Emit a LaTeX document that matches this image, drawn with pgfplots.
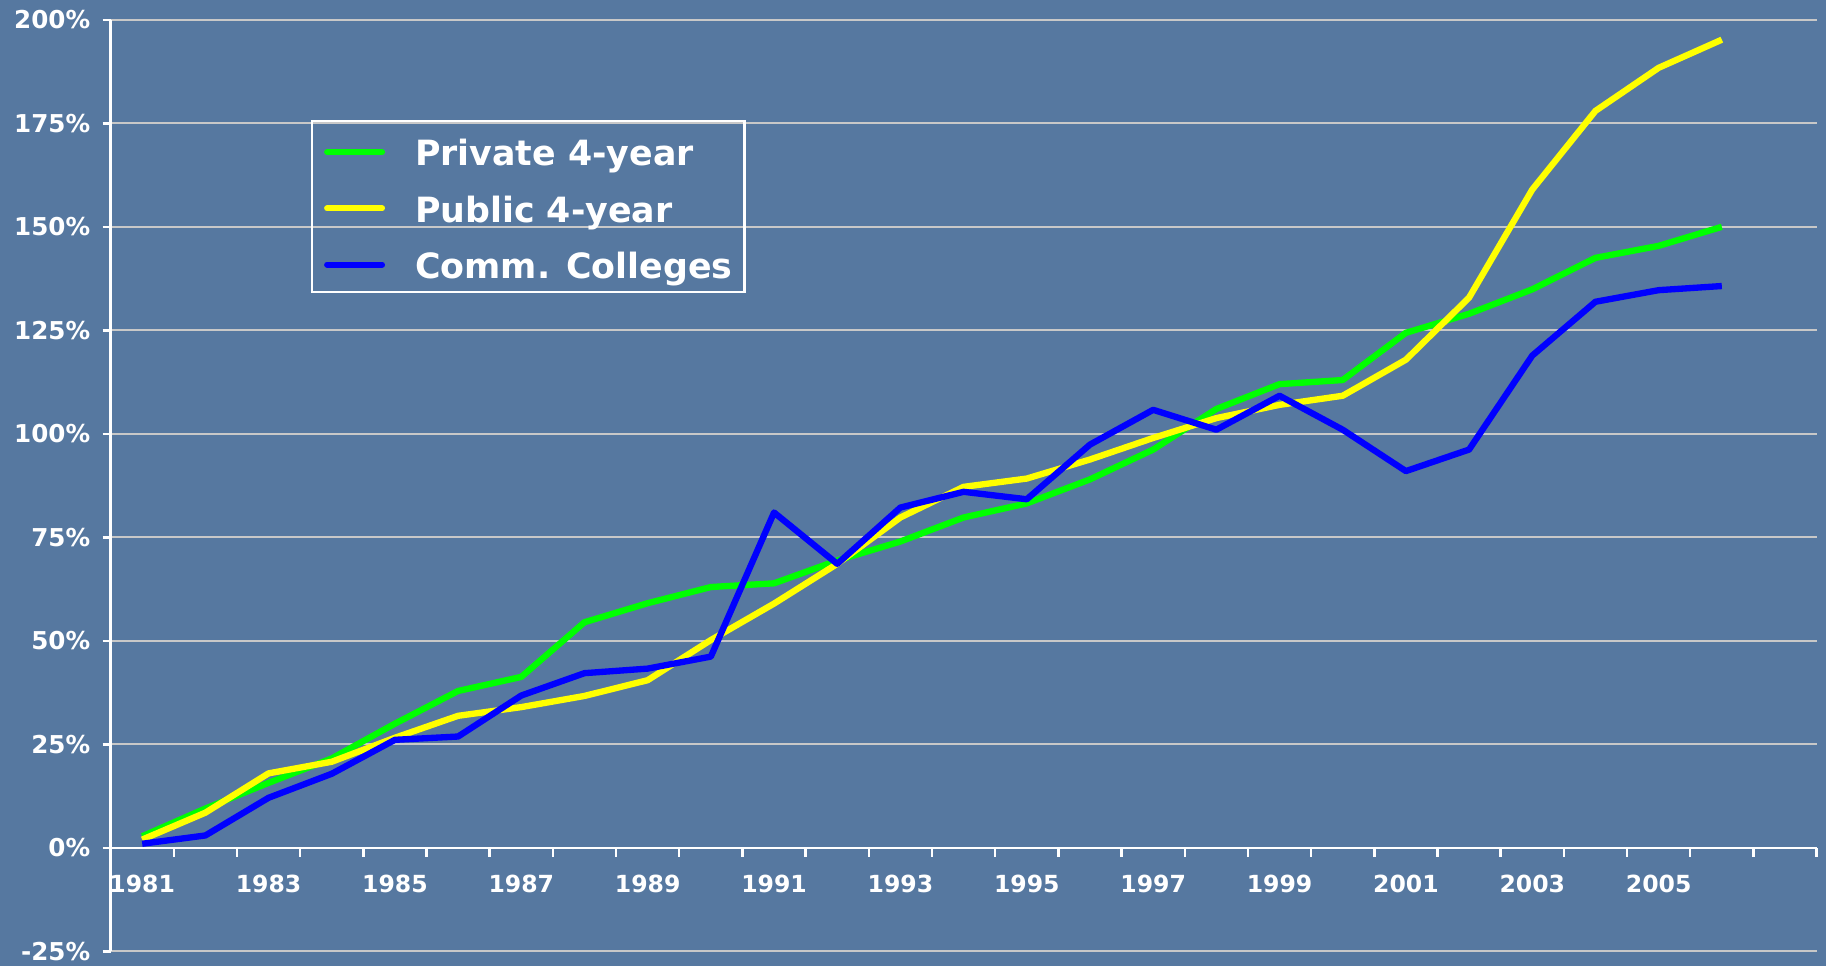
\documentclass[border=0pt]{standalone}
\usepackage{fontspec}
\setmainfont{DejaVu Sans}
\usepackage{pgfplots}
\pgfplotsset{compat=1.18}
\definecolor{bg}{RGB}{86,120,160}
\definecolor{gridc}{RGB}{200,200,200}
\definecolor{pgreen}{RGB}{0,255,0}
\definecolor{pyellow}{RGB}{255,255,0}
\definecolor{pblue}{RGB}{0,0,255}
\begin{document}
\begin{tikzpicture}
\useasboundingbox (0,0) rectangle (18.26cm,9.66cm);
\fill[bg] (0,0) rectangle (18.26cm,9.66cm);
\begin{axis}[
  at={(1.106cm,0.146cm)}, anchor=south west,
  scale only axis, width=17.06cm, height=9.316cm,
  xmin=0.5, xmax=27.5, ymin=-25, ymax=200,
  axis x line=middle, axis y line=left,
  axis line style={white, line width=0.7pt, -},
  hide obscured x ticks=false, hide obscured y ticks=false,
  ytick={-25,0,25,50,75,100,125,150,175,200},
  yticklabels={-25\%,0\%,25\%,50\%,75\%,100\%,125\%,150\%,175\%,200\%},
  xtick={1,3,5,7,9,11,13,15,17,19,21,23,25},
  xticklabels={1981,1983,1985,1987,1989,1991,1993,1995,1997,1999,2001,2003,2005},
  minor xtick={1.5,2.5,3.5,4.5,5.5,6.5,7.5,8.5,9.5,10.5,11.5,12.5,13.5,14.5,15.5,16.5,17.5,18.5,19.5,20.5,21.5,22.5,23.5,24.5,25.5,26.5,27.5},
  major x tick style={draw=none},
  minor x tick style={white, line width=0.7pt},
  y tick style={white, line width=0.7pt},
  tick align=outside,
  major tick length=0.08cm, minor tick length=0.09cm,
  ymajorgrids, grid style={gridc, line width=0.6pt},
  ticklabel style={font=\fontsize{7}{8}\selectfont\bfseries, text=white},
  xticklabel style={anchor=north, yshift=-0.07cm, font=\fontsize{6.7}{8}\selectfont\bfseries},
  legend style={at={(0.1175,0.8925)}, anchor=north west, draw=white, line width=0.6pt, fill=none, text=white,
    font=\fontsize{9.9}{12}\selectfont\bfseries, inner xsep=0.12cm, inner ysep=3.3pt, row sep=6pt,
    nodes={inner sep=0pt, text height=9.5pt, text depth=0.5pt},
    /tikz/every odd column/.append style={column sep=0.3cm}},
  legend cell align=left,
  legend image code/.code={\draw[#1, line width=1.7pt, line cap=round] (0cm,-0.02cm) -- (0.55cm,-0.02cm);},
]
\addplot[pgreen, line width=1.8pt, line join=round] coordinates {
(1,2.8) (2,9.5) (3,15.7) (4,21.6) (5,30) (6,37.9) (7,41.3) (8,54.5) (9,59.1) (10,63) (11,63.9) (12,69.4) (13,74)
(14,79.8) (15,83.2) (16,89) (17,96.2) (18,106) (19,112) (20,113) (21,124.4) (22,129) (23,134.9) (24,142.5) (25,145.4) (26,150)};
\addlegendentry{Private 4-year}
\addplot[pyellow, line width=1.8pt, line join=round] coordinates {
(1,2) (2,8.5) (3,18) (4,20.8) (5,26.6) (6,31.9) (7,34) (8,36.7) (9,40.5) (10,50.2) (11,59) (12,68.6) (13,79.8)
(14,87.2) (15,89.2) (16,93.8) (17,99) (18,103.8) (19,107) (20,109.2) (21,117.9) (22,132.9) (23,159) (24,178) (25,188.4) (26,195.2)};
\addlegendentry{Public 4-year}
\addplot[pblue, line width=1.8pt, line join=round] coordinates {
(1,1) (2,3) (3,12.1) (4,17.9) (5,26.1) (6,26.9) (7,36.8) (8,42.2) (9,43.3) (10,46.2) (11,81) (12,68.6) (13,82.2)
(14,86) (15,84.2) (16,97.4) (17,105.8) (18,101) (19,109.2) (20,101) (21,91) (22,96.2) (23,118.9) (24,131.9) (25,134.7) (26,135.7)};
\addlegendentry{Comm. Colleges}
\end{axis}
\end{tikzpicture}
\end{document}
